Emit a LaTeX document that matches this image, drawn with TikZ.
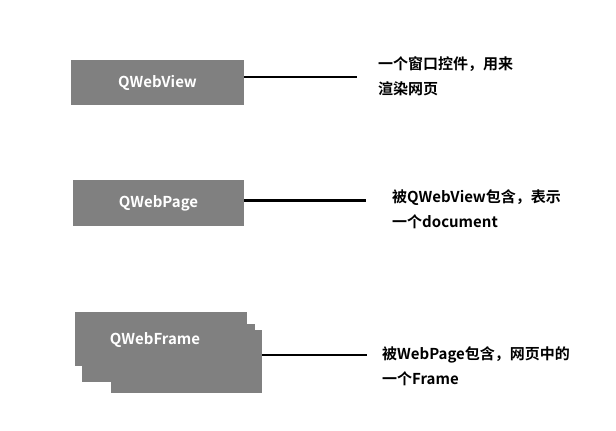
\documentclass[tikz,border=0pt]{standalone}
\usepackage{fontspec}
\setmainfont{Noto Sans CJK SC}[BoldFont={Noto Sans CJK SC Bold}]
\begin{document}
\begin{tikzpicture}[x=1pt,y=-1pt,
    classbox/.style={fill=gray, text=white, font=\bfseries\fontsize{15}{17}\selectfont, inner sep=0pt},
    link/.style={line width=2.6pt},
    note/.style={anchor=north west, align=left, inner sep=0pt, font=\bfseries\fontsize{15}{25}\selectfont}]
        \useasboundingbox (0,0) rectangle (616,431);
        % QWebView
        \node[classbox, minimum width=173pt, minimum height=45pt] (view) at (157.5,82.5) {QWebView};
        \coordinate (viewend) at (357,77);
        \draw[link] (view.east |- viewend) -- (viewend);
        \node[note] (viewnote) at (378,56) {一个窗口控件，用来\\渲染网页};

        % QWebPage
        \node[classbox, minimum width=171pt, minimum height=46pt] (page) at (158.5,203) {QWebPage};
        \coordinate (pageend) at (366,200.5);
        \draw[link] (page.east |- pageend) -- (pageend);
        \node[note] (pagenote) at (392,189) {被QWebView包含，表示\\一个document};

        % QWebFrame (stacked)
        \fill[gray] (111,330) rectangle (262,393);
        \fill[gray] (82,324) rectangle (255,382);
        \node[classbox, minimum width=172pt, minimum height=54pt, text depth=0pt] (frame) at (161,339) {\hspace*{-12pt}QWebFrame};
        \coordinate (frameback) at (262,355);
        \coordinate (frameend) at (367,355);
        \draw[link] (frameback) -- (frameend);
        \node[note] (framenote) at (382,346) {被WebPage包含，网页中的\\一个Frame};
    \end{tikzpicture}
\end{document}
